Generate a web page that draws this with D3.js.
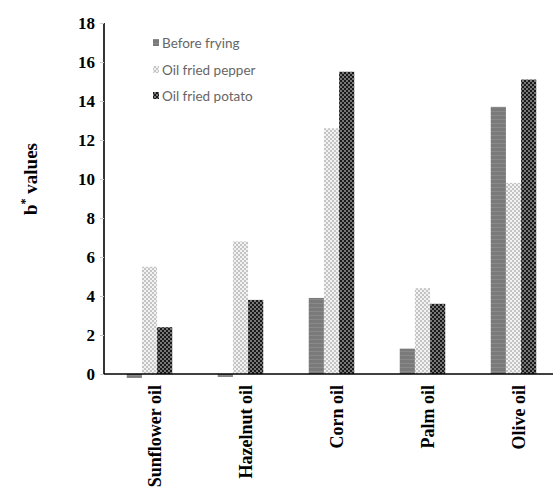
<!DOCTYPE html>
<html><head><meta charset="utf-8">
<script src="https://cdn.jsdelivr.net/npm/d3@7/dist/d3.min.js"></script>
<style>body{margin:0;background:#fff}</style>
</head><body>
<svg id="c" width="553" height="489"></svg>
<script>
const categories = ["Sunflower oil","Hazelnut oil","Corn oil","Palm oil","Olive oil"];
const seriesNames = ["Before frying","Oil fried pepper","Oil fried potato"];
const beforeFrying = [-0.2, -0.15, 3.9, 1.3, 13.7];
const oilFriedPepper = [5.5, 6.8, 12.6, 4.4, 9.8];
const oilFriedPotato = [2.4, 3.8, 15.5, 3.6, 15.1];
const yTicks = [0,2,4,6,8,10,12,14,16,18];

const series = [beforeFrying, oilFriedPepper, oilFriedPotato];
const svg = d3.select("#c");
const defs = svg.append("defs");
const p0 = defs.append("pattern").attr("id","pat0").attr("patternUnits","userSpaceOnUse").attr("width",4).attr("height",4);
p0.append("rect").attr("width",4).attr("height",4).attr("fill","#7a7a7a");
p0.append("rect").attr("y",3).attr("width",4).attr("height",1).attr("fill","#8a8a8a");
const p1 = defs.append("pattern").attr("id","pat1").attr("patternUnits","userSpaceOnUse").attr("width",4).attr("height",4);
p1.append("rect").attr("width",4).attr("height",4).attr("fill","#f2f2f2");
p1.append("rect").attr("x",0).attr("y",0).attr("width",2).attr("height",2).attr("fill","#c4c4c4");
p1.append("rect").attr("x",2).attr("y",2).attr("width",2).attr("height",2).attr("fill","#c4c4c4");
const p2 = defs.append("pattern").attr("id","pat2").attr("patternUnits","userSpaceOnUse").attr("width",4).attr("height",4);
p2.append("rect").attr("width",4).attr("height",4).attr("fill","#777");
p2.append("rect").attr("x",0).attr("y",0).attr("width",2).attr("height",2).attr("fill","#1a1a1a");
p2.append("rect").attr("x",2).attr("y",2).attr("width",2).attr("height",2).attr("fill","#1a1a1a");
const fills = ["url(#pat0)","url(#pat1)","url(#pat2)"];

const x = d3.scaleBand().domain(categories).range([104,559]).paddingInner(0.5).paddingOuter(0.25);
const xs = d3.scaleBand().domain(d3.range(3)).range([0,x.bandwidth()]);
const y = d3.scaleLinear().domain([0,18]).range([374,23]);

categories.forEach((c,i)=>{
  series.forEach((s,j)=>{
    const v = s[i];
    svg.append("rect")
      .attr("x", x(c)+xs(j))
      .attr("width", xs.bandwidth())
      .attr("y", y(Math.max(0,v)))
      .attr("height", Math.abs(y(v)-y(0)))
      .attr("fill", fills[j]);
  });
});

const yAxis = svg.append("g").attr("transform","translate(104,0)")
  .call(d3.axisLeft(y).tickValues(yTicks).tickSize(4).tickPadding(5));
yAxis.select(".domain").attr("stroke","#000").attr("stroke-width",1.6).attr("d","M0,23V374");
yAxis.selectAll(".tick line").attr("stroke","#ccc");
yAxis.selectAll(".tick text").attr("font-family","Liberation Serif").attr("font-weight","bold").attr("font-size",17).attr("fill","#000");

svg.append("line").attr("x1",104).attr("x2",553).attr("y1",y(0)).attr("y2",y(0)).attr("stroke","#000").attr("stroke-width",1.6);

categories.forEach(c=>{
  svg.append("text")
    .attr("transform",`translate(${x(c)+x.bandwidth()/2+5},385) rotate(-90)`)
    .attr("text-anchor","end").attr("dy","0.35em")
    .attr("font-family","Liberation Serif").attr("font-weight","bold").attr("font-size",18)
    .text(c);
});

const yt = svg.append("text").attr("transform","translate(37,179) rotate(-90)")
  .attr("text-anchor","middle").attr("font-family","Liberation Serif").attr("font-weight","bold").attr("font-size",19);
yt.append("tspan").text("b");
yt.append("tspan").attr("dy",-8).attr("font-size",12).text("*");
yt.append("tspan").attr("dy",8).text(" values");

const lg = svg.append("g");
seriesNames.forEach((n,j)=>{
  const ly = [43,70,96][j];
  lg.append("rect").attr("x",153).attr("y",ly-4).attr("width",6).attr("height",7).attr("fill",fills[j]);
  lg.append("text").attr("x",162).attr("y",ly).attr("dy","0.35em")
    .attr("font-family","Lato").attr("font-size",13.5).attr("fill","#666").text(n);
});
</script>
</body></html>
